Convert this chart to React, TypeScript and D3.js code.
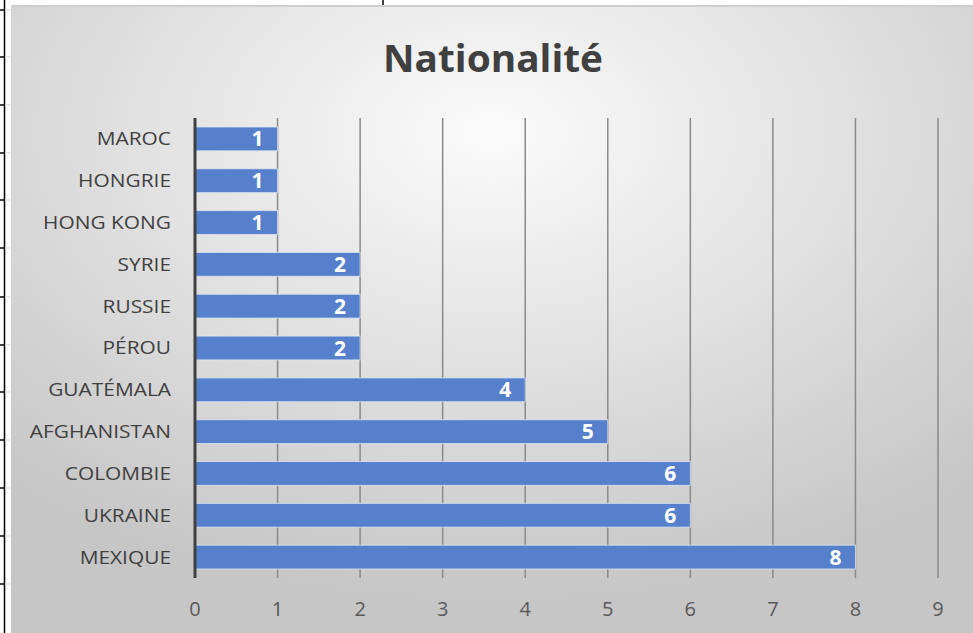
import React from "react";
import * as d3 from "d3";

const categories = ["MAROC", "HONGRIE", "HONG KONG", "SYRIE", "RUSSIE", "PÉROU", "GUATÉMALA", "AFGHANISTAN", "COLOMBIE", "UKRAINE", "MEXIQUE"];
const values = [1, 1, 1, 2, 2, 2, 4, 5, 6, 6, 8];
const xTicks = [0, 1, 2, 3, 4, 5, 6, 7, 8, 9];
const title = "Nationalité";
const sheetRows = [10, 57, 105, 153, 200, 248, 297, 345, 392, 440, 488, 536, 584];

export default function App() {
  const W = 973, H = 633;
  const x = d3.scaleLinear().domain([0, 9]).range([195, 938]);
  const y = d3.scaleBand<string>().domain(categories).range([118, 578]).paddingInner(0.43).paddingOuter(0.215);
  const font = "'Open Sans', 'Liberation Sans', sans-serif";
  return (
    <svg width={W} height={H} style={{ position: "absolute", left: 0, top: 0 }} fontFamily={font}>
      <defs>
        <radialGradient id="bg" cx="50%" cy="20%" r="75%" fx="50%" fy="20%">
          <stop offset="0%" stopColor="#fbfbfb" />
          <stop offset="100%" stopColor="#c6c6c6" />
        </radialGradient>
      </defs>
      <rect x={0} y={0} width={W} height={H} fill="#ffffff" />
      <rect x={11} y={7} width={W - 11} height={H - 7} fill="url(#bg)" />
      <line x1={11} x2={W} y1={6} y2={6} stroke="#cfcfcf" strokeWidth={2} />
      <line x1={383} x2={383} y1={0} y2={5} stroke="#000" strokeWidth={1.5} />
      <line x1={4.5} x2={4.5} y1={0} y2={H} stroke="#000" strokeWidth={1.5} />
      {sheetRows.map((r) => (
        <line key={r} x1={0} x2={4.5} y1={r} y2={r} stroke="#000" strokeWidth={1.5} />
      ))}
      {sheetRows.map((r) => (
        <line key={"g" + r} x1={5} x2={11} y1={r} y2={r} stroke="#d8d8d8" strokeWidth={1} />
      ))}
      <text x={493} y={72} textAnchor="middle" fontSize={37} fontWeight={700} fill="#404040" textLength={220} lengthAdjust="spacingAndGlyphs">{title}</text>
      {xTicks.slice(1).map((t) => (
        <line key={t} x1={x(t)} x2={x(t)} y1={118} y2={578} stroke="#8a8a8a" strokeWidth={1.5} />
      ))}
      {categories.map((c, i) => (
        <g key={c}>
          <rect x={x(0)} y={y(c)!} width={x(values[i]) - x(0)} height={y.bandwidth()} fill="#5680cb" stroke="#dfe6f3" strokeOpacity={0.8} strokeWidth={1} />
          <text x={x(values[i]) - 14} y={y(c)! + y.bandwidth() / 2 + 7.5} textAnchor="end" fontSize={21} fontWeight={700} fill="#ffffff">{values[i]}</text>
          <text x={171} y={y(c)! + y.bandwidth() / 2 + 6.5} textAnchor="end" fontSize={18.5} fill="#404040" transform={`translate(171,0) scale(1.13,1) translate(-171,0)`}>{c}</text>
        </g>
      ))}
      <line x1={x(0)} x2={x(0)} y1={118} y2={578} stroke="#404040" strokeWidth={3} />
      {xTicks.map((t) => (
        <text key={t} x={x(t)} y={616} textAnchor="middle" fontSize={20} fill="#595959">{t}</text>
      ))}
    </svg>
  );
}
